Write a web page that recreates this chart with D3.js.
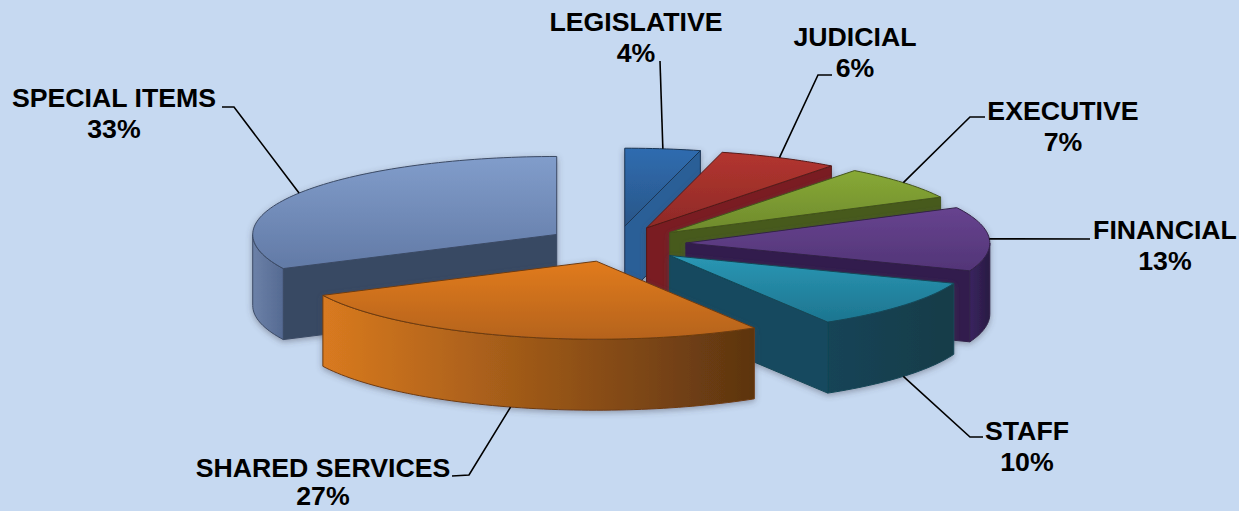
<!DOCTYPE html>
<meta charset="utf-8">
<style>
  html, body { margin: 0; padding: 0; background: #c6d9f1; }
  svg { display: block; }
  text { font-family: "Liberation Sans", Arial, sans-serif; font-weight: bold; font-size: 26.7px; fill: #000; text-anchor: middle; }
</style>

<!-- Load d3.js -->
<script src="https://d3js.org/d3.v7.min.js"></script>

<div id="my_dataviz"></div>

<script>

var categories = ["LEGISLATIVE", "JUDICIAL", "EXECUTIVE", "FINANCIAL", "STAFF", "SHARED SERVICES", "SPECIAL ITEMS"];
var values = [4, 6.4, 7.1, 13.3, 10.5, 26.5, 32.2];
var percentLabels = ["4%", "6%", "7%", "13%", "10%", "27%", "33%"];

// colors per slice: top face (light, dark), cut wall, outer wall (left, right)
var topLight = ["#2f6cb0", "#b3352f", "#88a936", "#67438f", "#2a97b4", "#e17b1d", "#819dcb"];
var topDark = ["#2a5688", "#8e2a27", "#6e8a2c", "#523577", "#1d7590", "#b5631a", "#627aa6"];
var cutWall = ["#2b5e97", "#7a1f20", "#465a1a", "#301d4e", "#134a5e", "#5e3510", "#384a63"];
var wallLeft = ["#2b5e97", "#7a1f20", "#465a1a", "#3a2560", "#124457", "#d97a20", "#6c81a8"];
var wallRight = ["#2b5e97", "#7a1f20", "#465a1a", "#281a42", "#143c48", "#5c3410", "#556a92"];

// label placement: center x, name y, percent y, elbow of the leader line, end of the leader line
var labelX = [636, 855, 1063, 1165, 1027, 323, 114];
var labelY = [31, 46, 120, 239, 440, 477, 107];
var percentY = [62, 77, 151, 270, 471, 505, 138];
var elbows = [null, [818, 75], [970, 117], null, [970, 437], [469, 475], [234, 107]];
var leaderEnds = [[660, 61], [832, 75], [985, 117], [1090, 239], [983, 437], [452, 476], [222, 107]];

var width = 1239, height = 511;
var cx = 616, cy = 244, rx = 304, ry = 78, depth = 71, explode = 0.23;

var svg = d3.select("#my_dataviz")
  .append("svg")
    .attr("width", width)
    .attr("height", height);

svg.append("rect")
  .attr("width", width)
  .attr("height", height)
  .attr("fill", "#c6d9f1");

var defs = svg.append("defs");

// soft shadow around the whole slice
var shadow = defs.append("filter")
  .attr("id", "soft")
  .attr("x", "-10%").attr("y", "-10%")
  .attr("width", "120%").attr("height", "125%");
shadow.append("feDropShadow")
  .attr("dx", 0).attr("dy", 2)
  .attr("stdDeviation", 3)
  .attr("flood-color", "#445")
  .attr("flood-opacity", 0.45);

function gradient(id, horizontal, c0, c1) {
  var g = defs.append("linearGradient")
    .attr("id", id)
    .attr("x1", 0).attr("y1", 0)
    .attr("x2", horizontal ? 1 : 0).attr("y2", horizontal ? 0 : 1);
  g.append("stop").attr("offset", "0%").attr("stop-color", c0);
  g.append("stop").attr("offset", "100%").attr("stop-color", c1);
}

// flat ellipse: unit disc to screen
var x = d3.scaleLinear().domain([-1, 1]).range([cx - rx, cx + rx]);
var y = d3.scaleLinear().domain([-1, 1]).range([cy - ry, cy + ry]);

var pie = d3.pie().sort(null);
var arcs = pie(values);

var line = d3.line()
  .x(function (d) { return x(d[0]); })
  .y(function (d) { return y(d[1]) + d[2]; });

// the middle of the slice gives the direction it is pulled out
function offset(a) {
  var mid = (a.startAngle + a.endAngle) / 2;
  return [explode * Math.sin(mid), -explode * Math.cos(mid)];
}

function rimPoint(a, angle, dz) {
  var o = offset(a);
  return [o[0] + Math.sin(angle), o[1] - Math.cos(angle), dz];
}

function rim(a, from, to, dz) {
  var n = Math.max(2, Math.ceil(Math.abs(to - from) * 40));
  return d3.range(n + 1).map(function (i) {
    return rimPoint(a, from + (to - from) * i / n, dz);
  });
}

function apex(a, dz) {
  var o = offset(a);
  return [o[0], o[1], dz];
}

// back to front
var drawOrder = [6, 0, 1, 2, 3, 4, 5];

drawOrder.forEach(function (i) {
  var a = arcs[i];
  var edge = d3.color(topDark[i]).darker(1.4).formatHex();

  gradient("top" + i, false, topLight[i], topDark[i]);
  gradient("wall" + i, true, wallLeft[i], wallRight[i]);

  var g = svg.append("g").attr("filter", "url(#soft)");

  // cut walls that face the viewer
  [[a.startAngle, -Math.PI / 2], [a.endAngle, Math.PI / 2]].forEach(function (e) {
    if (Math.cos(e[0] + e[1]) < -0.001) {
      g.append("path")
        .attr("d", line([apex(a, 0), rimPoint(a, e[0], 0), rimPoint(a, e[0], depth), apex(a, depth)]) + "Z")
        .attr("fill", cutWall[i])
        .attr("stroke", edge)
        .attr("stroke-width", 1);
    }
  });

  // outer wall, only the front half of the ellipse
  var from = Math.max(a.startAngle, Math.PI / 2);
  var to = Math.min(a.endAngle, 3 * Math.PI / 2);
  if (to > from) {
    g.append("path")
      .attr("d", line(rim(a, from, to, 0).concat(rim(a, to, from, depth))) + "Z")
      .attr("fill", "url(#wall" + i + ")")
      .attr("stroke", edge)
      .attr("stroke-width", 1);
  }

  // top face
  g.append("path")
    .attr("d", line([apex(a, 0)].concat(rim(a, a.startAngle, a.endAngle, 0))) + "Z")
    .attr("fill", "url(#top" + i + ")")
    .attr("stroke", edge)
    .attr("stroke-width", 1);
});

// leader lines start on the rim at the slice's middle
arcs.forEach(function (a, i) {
  var mid = (a.startAngle + a.endAngle) / 2;
  var front = Math.cos(mid) < -0.3 ? depth : 0;
  var p = rimPoint(a, mid, front);
  var pts = [[x(p[0]), y(p[1]) + p[2]]];
  if (elbows[i]) pts.push(elbows[i]);
  pts.push(leaderEnds[i]);
  svg.append("path")
    .attr("d", d3.line()(pts))
    .attr("fill", "none")
    .attr("stroke", "#000")
    .attr("stroke-width", 1.6);
});

// labels
categories.forEach(function (c, i) {
  svg.append("text").attr("x", labelX[i]).attr("y", labelY[i]).text(c);
  svg.append("text").attr("x", labelX[i]).attr("y", percentY[i]).text(percentLabels[i]);
});

</script>
